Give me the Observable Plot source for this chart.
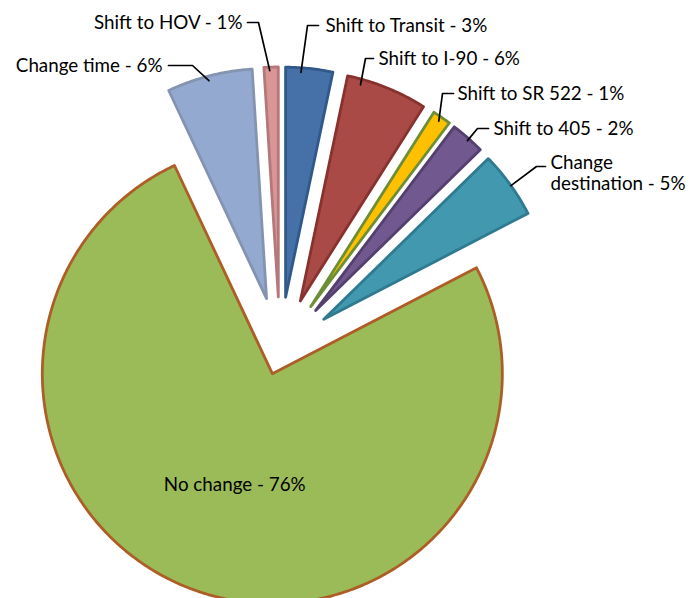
<!DOCTYPE html>
<html><head><meta charset="utf-8">
<script src="https://cdn.jsdelivr.net/npm/d3@7"></script>
<script src="https://cdn.jsdelivr.net/npm/@observablehq/plot@0.6"></script>
<style>body{margin:0;background:#fff;} #chart svg{display:block;}</style>
</head><body><div id="chart"></div>
<script>
// ---- data (clockwise from 12 o'clock) ----
const categories = ["Shift to Transit", "Shift to I-90", "Shift to SR 522", "Shift to 405", "Change destination", "No change", "Change time", "Shift to HOV"];
const values = [3.3, 5.7, 1.3, 2.4, 4.7, 75.7, 6.0, 1.0];
const labels = ["Shift to Transit - 3%", "Shift to I-90 - 6%", "Shift to SR 522 - 1%", "Shift to 405 - 2%", "Change\ndestination - 5%", "No change - 76%", "Change time - 6%", "Shift to HOV - 1%"];

// ---- styles ----
const fills   = ["#4571A8", "#A94A47", "#FFC000", "#71588F", "#4198AF", "#9BBB59", "#94A9D0", "#D99694"];
const strokes = ["#30598A", "#88322F", "#6E8E36", "#54406F", "#2F7A8E", "#AD5E27", "#8494B0", "#B5787A"];
const explode = [0.235, 0.235, 0.235, 0.235, 0.235, 0.104, 0.235, 0.235]; // fraction of radius

// ---- layout ----
const W = 699, H = 598;
const cx = 279.5, cy = 350.5, R = 230;
// label layout: text anchor position, leader horizontal segment, leader end (fraction across slice angle, fraction of radius)
const labelLayout = [
  {x: 325, y: 25,  anchor: "start", lx1: 318, lx2: 307, ly: 25,  t: 0.33, rf: 0.98},
  {x: 378, y: 58,  anchor: "start", lx1: 373, lx2: 365, ly: 58,  t: 0.18, rf: 0.975},
  {x: 457, y: 93,  anchor: "start", lx1: 453, lx2: 442, ly: 93,  t: 0.48, rf: 0.98},
  {x: 493, y: 128, anchor: "start", lx1: 488, lx2: 477, ly: 128, t: 0.55, rf: 0.99},
  {x: 550, y: 172.5, anchor: "start", lx1: 545, lx2: 536, ly: 166, t: 0.52, rf: 1.0},
  null,
  {x: 162, y: 65,  anchor: "end",   lx1: 168, lx2: 192, ly: 65,  t: 0.48, rf: 0.98},
  {x: 242, y: 22,  anchor: "end",   lx1: 247, lx2: 258, ly: 22,  t: 0.4,  rf: 0.985}
];

const arcs = d3.pie().sort(null).value(d => d)(values);

function pt(ox, oy, a, r) { return {x: ox + r * Math.sin(a), y: oy - r * Math.cos(a)}; }

const slices = arcs.map((a, i) => {
  const mid = (a.startAngle + a.endAngle) / 2;
  const off = explode[i] * R;
  const ox = cx + off * Math.sin(mid), oy = cy - off * Math.cos(mid);
  const pts = [{x: ox, y: oy}];
  const n = Math.max(4, Math.ceil((a.endAngle - a.startAngle) / (Math.PI / 360)));
  for (let k = 0; k <= n; k++) {
    const ang = a.startAngle + (a.endAngle - a.startAngle) * k / n;
    pts.push(pt(ox, oy, ang, R));
  }
  return {i, ox, oy, mid, a0: a.startAngle, a1: a.endAngle, pts};
});

const font = "Lato, 'Open Sans', sans-serif";
const fs = 18.8;

const marks = [];
slices.forEach(s => {
  marks.push(Plot.line(s.pts, {x: "x", y: "y", curve: "linear-closed", fill: fills[s.i], stroke: strokes[s.i], strokeWidth: 2.8, strokeLinejoin: "round"}));
});

// leaders and labels
slices.forEach(s => {
  const L = labelLayout[s.i];
  if (!L) return;
  const end = pt(s.ox, s.oy, s.a0 + L.t * (s.a1 - s.a0), L.rf * R);
  marks.push(Plot.line([{x: L.lx1, y: L.ly}, {x: L.lx2, y: L.ly}, end], {x: "x", y: "y", stroke: "#000", strokeWidth: 1.7, curve: "linear"}));
  marks.push(Plot.text([{x: L.x, y: L.y, t: labels[s.i]}], {x: "x", y: "y", text: "t", textAnchor: L.anchor, fontSize: fs, fontFamily: font, fill: "#000", lineHeight: 1.12}));
});

// inside label for the big slice
const g = slices[5];
const gp = pt(g.ox, g.oy, g.mid, 0.51 * R);
marks.push(Plot.text([{x: gp.x, y: gp.y, t: labels[5]}], {x: "x", y: "y", text: "t", textAnchor: "middle", fontSize: fs, fontFamily: font, fill: "#000"}));

const chart = Plot.plot({
  width: W, height: H,
  margin: 0,
  x: {domain: [0, W], range: [0, W], axis: null},
  y: {domain: [0, H], range: [0, H], axis: null},
  style: {background: "#fff", overflow: "visible"},
  marks
});
document.getElementById("chart").append(chart);
</script>
</body></html>
